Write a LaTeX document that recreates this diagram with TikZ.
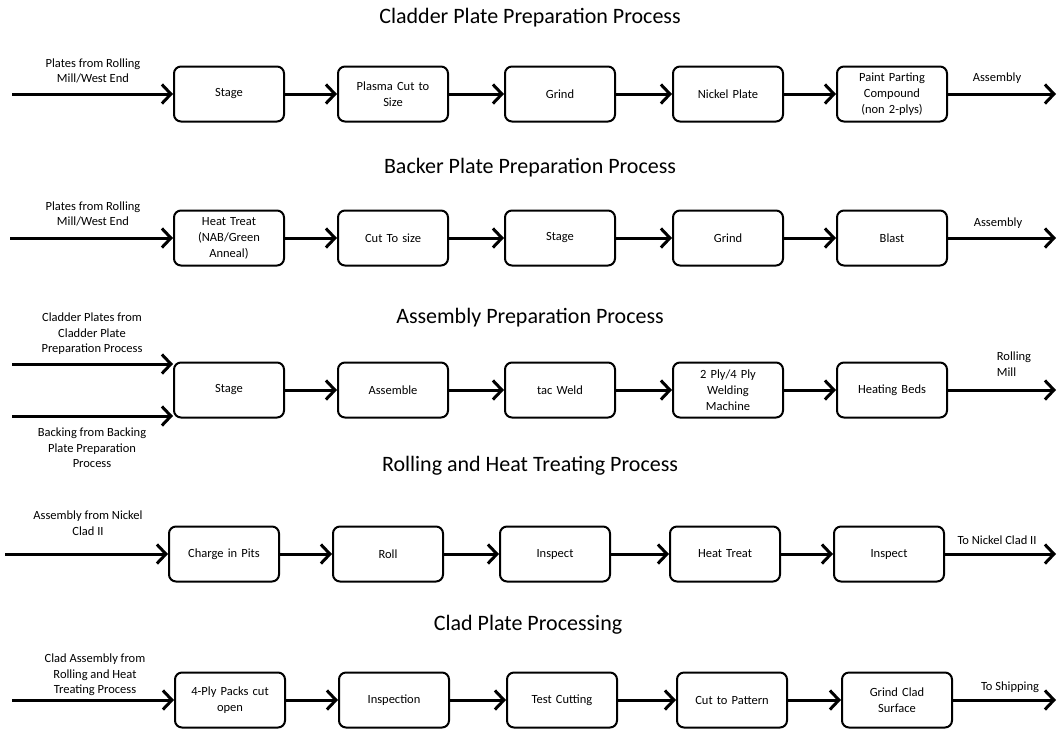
\documentclass[tikz,border=0pt]{standalone}
\usepackage{fontspec}
\setmainfont{Carlito}
\usetikzlibrary{arrows.meta}

\begin{document}
\begin{tikzpicture}[x=1pt, y=-1pt,
    stepbox/.style={draw, line width=2pt, rounded corners=7pt, minimum width=110pt,
        minimum height=55pt, text width=104pt, align=center, inner sep=2pt,
        font=\fontsize{12.5}{16}\selectfont},
    flow/.style={line width=3pt, -{Straight Barb[length=9pt, width=19pt, line width=3pt]}},
    lbl/.style={align=center, font=\fontsize{12.5}{15.5}\selectfont},
    heading/.style={font=\fontsize{22}{26}\selectfont}]
    \useasboundingbox (0, 0) rectangle (1059, 732);

    % cladder plate
    \node[heading] (ctitle) at (530, 18) {Cladder Plate Preparation Process};
    \node[stepbox] (c1) at (229, 94) {Stage};
    \node[stepbox] (c2) at (393, 94) {Plasma Cut to\\Size};
    \node[stepbox] (c3) at (560, 94) {Grind};
    \node[stepbox] (c4) at (728, 94) {Nickel Plate};
    \node[stepbox] (c5) at (892, 94) {Paint Parting\\Compound\\(non 2-plys)};
    \node[lbl] (cin) at (93, 71) {Plates from Rolling\\Mill/West End};
    \node[lbl] (cout) at (997, 78) {Assembly};
    \coordinate (cstart) at (12, 94);
    \coordinate (cend) at (1056, 94);

    % backer plate
    \node[heading] (btitle) at (530, 168) {Backer Plate Preparation Process};
    \node[stepbox] (b1) at (229, 238) {Heat Treat\\(NAB/Green\\Anneal)};
    \node[stepbox] (b2) at (393, 238) {Cut To size};
    \node[stepbox] (b3) at (560, 238) {Stage};
    \node[stepbox] (b4) at (728, 238) {Grind};
    \node[stepbox] (b5) at (892, 238) {Blast};
    \node[lbl] (bin) at (93, 214) {Plates from Rolling\\Mill/West End};
    \node[lbl] (bout) at (998, 223) {Assembly};
    \coordinate (bstart) at (10, 238);
    \coordinate (bend) at (1056, 238);

    % assembly
    \node[heading] (atitle) at (530, 318) {Assembly Preparation Process};
    \node[stepbox] (a1) at (229, 390) {Stage};
    \node[stepbox] (a2) at (393, 390) {Assemble};
    \node[stepbox] (a3) at (560, 390) {tac Weld};
    \node[stepbox] (a4) at (728, 390) {2 Ply/4 Ply\\Welding\\Machine};
    \node[stepbox] (a5) at (892, 390) {Heating Beds};
    \node[lbl] (ain) at (92, 334) {Cladder Plates from\\Cladder Plate\\Preparation Process};
    \node[lbl] (ain2) at (92, 448) {Backing from Backing\\Plate Preparation\\Process};
    \node[lbl, align=left] (aout) at (1014, 364) {Rolling\\Mill};
    \coordinate (astart) at (12, 364);
    \coordinate (astart2) at (12, 416);
    \coordinate (aend) at (1056, 390);

    % rolling and heat treating
    \node[heading] (rtitle) at (530, 466) {Rolling and Heat Treating Process};
    \node[stepbox] (r1) at (224, 554) {Charge in Pits};
    \node[stepbox] (r2) at (388, 554) {Roll};
    \node[stepbox] (r3) at (555, 554) {Inspect};
    \node[stepbox] (r4) at (725, 554) {Heat Treat};
    \node[stepbox] (r5) at (889, 554) {Inspect};
    \node[lbl] (rin) at (88, 523) {Assembly from Nickel\\Clad II};
    \node[lbl] (rout) at (997, 540) {To Nickel Clad II};
    \coordinate (rstart) at (5, 554);
    \coordinate (rend) at (1056, 554);

    % clad plate
    \node[heading] (ptitle) at (528, 625) {Clad Plate Processing};
    \node[stepbox] (p1) at (230, 700) {4-Ply Packs cut\\open};
    \node[stepbox] (p2) at (394, 700) {Inspection};
    \node[stepbox] (p3) at (562, 700) {Test Cutting};
    \node[stepbox] (p4) at (732, 700) {Cut to Pattern};
    \node[stepbox] (p5) at (897, 700) {Grind Clad\\Surface};
    \node[lbl] (pin) at (95, 675) {Clad Assembly from\\Rolling and Heat\\Treating Process};
    \node[lbl] (pout) at (1010, 687) {To Shipping};
    \coordinate (pstart) at (12, 700);
    \coordinate (pend) at (1056, 700);

    \foreach \r in {c, b, r, p} {
        \draw[flow] (\r start) -- (\r start -| \r1.west);
        \draw[flow] (\r1) -- (\r2);
        \draw[flow] (\r2) -- (\r3);
        \draw[flow] (\r3) -- (\r4);
        \draw[flow] (\r4) -- (\r5);
        \draw[flow] (\r5.east |- \r end) -- (\r end);
    }
    \draw[flow] (astart) -- (astart -| a1.west);
    \draw[flow] (astart2) -- (astart2 -| a1.west);
    \draw[flow] (a1) -- (a2);
    \draw[flow] (a2) -- (a3);
    \draw[flow] (a3) -- (a4);
    \draw[flow] (a4) -- (a5);
    \draw[flow] (a5) -- (aend);
\end{tikzpicture}
\end{document}
